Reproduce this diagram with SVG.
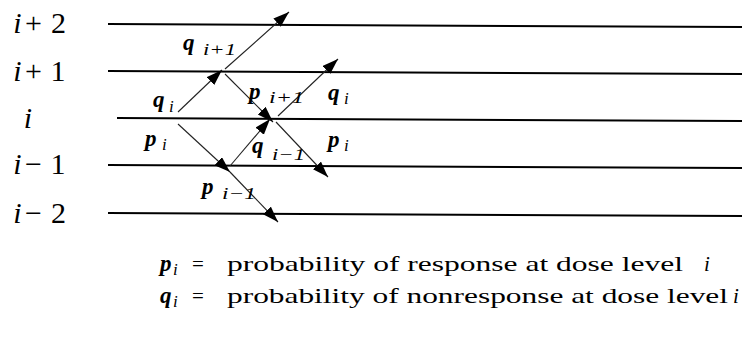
<svg xmlns="http://www.w3.org/2000/svg" width="742" height="339" viewBox="0 0 742 339" font-family="Liberation Serif, DejaVu Serif, serif">
<defs>
<marker id="ah" markerUnits="userSpaceOnUse" markerWidth="18" markerHeight="12" refX="16" refY="5.5" orient="auto">
<path d="M0,0 L16,5.5 L0,11 z" fill="#000"/>
</marker>
<style>
.lvl{stroke:#000;stroke-width:2;fill:none}
.arr{stroke:#222;stroke-width:1.1;fill:none;marker-end:url(#ah)}
.lab{font-size:30px}
.it{font-style:italic}
.v{font-style:italic;font-weight:bold;font-size:23px}
.s{font-style:italic;font-size:17px}
.t{font-size:21px}
</style>
</defs>
<g id="levels">
<line class="lvl" x1="108" y1="24" x2="742" y2="27"/>
<line class="lvl" x1="108" y1="71" x2="742" y2="74"/>
<line class="lvl" x1="117" y1="118" x2="742" y2="121"/>
<line class="lvl" x1="108" y1="165" x2="742" y2="168"/>
<line class="lvl" x1="108" y1="213" x2="742" y2="216"/>
</g>
<g id="level-labels">
<g id="lab-ip2"><text class="lab it" x="17.5" y="33" text-anchor="middle">i</text><text class="lab" x="33.5" y="33" text-anchor="middle">+</text><text class="lab" x="58.5" y="33" text-anchor="middle">2</text></g>
<g id="lab-ip1"><text class="lab it" x="17.5" y="81" text-anchor="middle">i</text><text class="lab" x="33.5" y="81" text-anchor="middle">+</text><text class="lab" x="58" y="81" text-anchor="middle">1</text></g>
<g id="lab-i"><text class="lab it" x="28" y="128" text-anchor="middle">i</text></g>
<g id="lab-im1"><text class="lab it" x="17.5" y="174" text-anchor="middle">i</text><text class="lab" x="33.5" y="174" text-anchor="middle">−</text><text class="lab" x="58" y="174" text-anchor="middle">1</text></g>
<g id="lab-im2"><text class="lab it" x="17.5" y="223" text-anchor="middle">i</text><text class="lab" x="33.5" y="223" text-anchor="middle">−</text><text class="lab" x="58.5" y="223" text-anchor="middle">2</text></g>
</g>
<g id="connectors">
<line class="arr" x1="178" y1="112" x2="222" y2="70"/>
<line class="arr" x1="225" y1="69" x2="289" y2="12"/>
<line class="arr" x1="225" y1="74" x2="273" y2="122"/>
<line class="arr" x1="230" y1="166" x2="270" y2="119"/>
<line class="arr" x1="278" y1="116" x2="338" y2="59"/>
<line class="arr" x1="276" y1="122" x2="328" y2="177"/>
<line class="arr" x1="178" y1="124" x2="230" y2="172"/>
<line class="arr" x1="230" y1="172" x2="278" y2="222"/>
</g>
<g id="edge-labels">
<g id="l-qip1"><text class="v" x="183" y="50">q</text><text class="s" x="203" y="55" textLength="33" lengthAdjust="spacingAndGlyphs">i+1</text></g>
<g id="l-qi-left"><text class="v" x="153" y="107">q</text><text class="s" x="169" y="112">i</text></g>
<g id="l-pi-left"><text class="v" x="145" y="146">p</text><text class="s" x="162" y="150">i</text></g>
<g id="l-pip1"><text class="v" x="249" y="99">p</text><text class="s" x="269" y="103" textLength="35" lengthAdjust="spacingAndGlyphs">i+1</text></g>
<g id="l-qi-right"><text class="v" x="328" y="100">q</text><text class="s" x="344" y="104">i</text></g>
<g id="l-qim1"><text class="v" x="252" y="153">q</text><text class="s" x="272" y="160" textLength="33" lengthAdjust="spacingAndGlyphs">i−1</text></g>
<g id="l-pi-right"><text class="v" x="328" y="147">p</text><text class="s" x="344" y="151">i</text></g>
<g id="l-pim1"><text class="v" x="202" y="194">p</text><text class="s" x="222" y="199" textLength="34" lengthAdjust="spacingAndGlyphs">i−1</text></g>
</g>
<g id="legend">
<g id="leg-p"><text class="v" x="160" y="271">p</text><text class="s" x="173" y="275">i</text><text class="t" x="192" y="271">=</text><text class="t" x="227" y="271" textLength="456" lengthAdjust="spacingAndGlyphs">probability of response at dose level</text><text class="t it" x="704" y="271">i</text></g>
<g id="leg-q"><text class="v" x="160" y="303">q</text><text class="s" x="173" y="307">i</text><text class="t" x="192" y="303">=</text><text class="t" x="227" y="303" textLength="501" lengthAdjust="spacingAndGlyphs">probability of nonresponse at dose level</text><text class="t it" x="733" y="303">i</text></g>
</g>
</svg>
